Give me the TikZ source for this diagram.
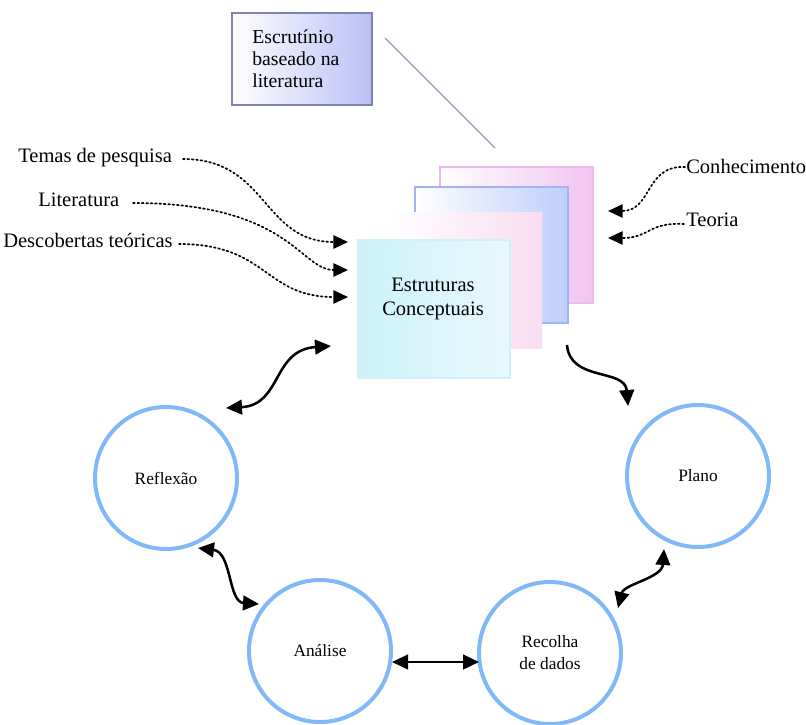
\documentclass[tikz,border=0pt]{standalone}
\usepackage{fontspec}
\setmainfont{Liberation Serif}
\usetikzlibrary{arrows.meta}
\definecolor{circblue}{RGB}{128,184,248}
\definecolor{escborder}{RGB}{128,130,180}
\definecolor{escfill}{RGB}{186,192,244}
\definecolor{pinkedge}{RGB}{236,186,236}
\definecolor{pinkfill}{RGB}{240,196,242}
\definecolor{blueedge}{RGB}{160,180,244}
\definecolor{bluefill}{RGB}{190,206,250}
\definecolor{palepink}{RGB}{250,220,242}
\definecolor{cyanA}{RGB}{204,242,250}
\definecolor{cyanB}{RGB}{232,249,253}
\definecolor{cyanedge}{RGB}{210,240,250}
\definecolor{linegray}{RGB}{150,150,190}
\begin{document}
\begin{tikzpicture}[x=0.75pt,y=-0.75pt,
  lab/.style={font=\fontsize{15.4}{18}\selectfont, inner sep=0pt},
  esclab/.style={font=\fontsize{14.8}{16.5}\selectfont, inner sep=0pt, align=left},
  circ/.style={circle, draw=circblue, line width=3pt, minimum size=106.5pt, inner sep=0pt,
               font=\fontsize{13}{16.5}\selectfont, align=center},
  dotarr/.style={dotted, line width=1.3pt, line cap=round, -{Triangle[length=11pt,width=10pt]}},
  wavy/.style={line width=1.9pt, -{Triangle[length=12pt,width=11pt]}},
  wavyboth/.style={line width=1.9pt, {Triangle[length=12pt,width=11pt]}-{Triangle[length=12pt,width=11pt]}}
]
\useasboundingbox (0,0) rectangle (806,724);

% --- box top
\shadedraw[draw=escborder, line width=0.8pt, left color=white, right color=escfill]
  (232,13) rectangle (372,105);
\node[esclab, anchor=north west] (esc) at (252,30) {Escrut\'inio\\baseado na\\literatura};
\coordinate (l1) at (385,38);
\coordinate (l2) at (495,148);
\draw[linegray, line width=1pt] (l1) -- (l2);

% --- stacked frames
\shadedraw[draw=pinkedge, line width=1pt, left color=white, right color=pinkfill]
  (440,167) rectangle (593,303);
\shadedraw[draw=blueedge, line width=1pt, left color=white, right color=bluefill]
  (415,187) rectangle (568,323);
\shade[left color=white, right color=palepink] (388,212) rectangle (542,348);
\node[draw=cyanedge, line width=0.8pt, left color=cyanA, right color=cyanB,
      minimum width=114pt, minimum height=103.5pt, inner sep=0pt] (front) at (434,309) {};
\node[lab, align=center, font=\fontsize{15.4}{17.5}\selectfont] (fronttxt) at (433,299) {Estruturas\\Conceptuais};

% --- left labels
\node[lab, anchor=west] (temas) at (18,158) {Temas de pesquisa};
\node[lab, anchor=west] (lit) at (38,200) {Literatura};
\node[lab, anchor=west] (desc) at (3,240) {Descobertas te\'oricas};
\coordinate (ts) at (183,159);
\coordinate (ls) at (133,203);
\coordinate (ds) at (179,244);
\coordinate (te) at (348,242);
\coordinate (le) at (348,270);
\coordinate (de) at (348,297);
\draw[dotarr] (ts) .. controls (268,159) and (262,242) .. (te);
\draw[dotarr] (ls) .. controls (290,203) and (300,270) .. (le);
\draw[dotarr] (ds) .. controls (268,244) and (264,297) .. (de);

% --- right labels
\node[lab, anchor=west] (con) at (686,166) {Conhecimento};
\node[lab, anchor=west] (teo) at (686,220) {Teoria};
\coordinate (cs) at (685,167);
\coordinate (os) at (684,224);
\coordinate (ce) at (608,211);
\coordinate (oe) at (608,238);
\draw[dotarr] (cs) .. controls (645,165) and (652,211) .. (ce);
\draw[dotarr] (os) .. controls (648,222) and (650,238) .. (oe);

% --- circles
\node[circ] (refl) at (166,478) {Reflex\~ao};
\node[circ] (plano) at (698,476) {Plano};
\node[circ] (anal) at (320,651) {An\'alise};
\node[circ] (rec) at (550,653) {Recolha\\de dados};

% --- solid arrows
\coordinate (a1) at (226,408);
\coordinate (a2) at (331,346);
\draw[wavyboth] (a1) .. controls (282,405) and (272,350) .. (a2);
\coordinate (b1) at (567,345);
\coordinate (b2) at (628,406);
\draw[wavy] (b1) .. controls (570,382) and (625,368) .. (b2);
\coordinate (c1) at (198,548);
\coordinate (c2) at (259,604);
\draw[wavyboth] (c1) .. controls (232,552) and (228,602) .. (c2);
\coordinate (d1) at (392,662);
\coordinate (d2) at (479,662);
\draw[wavyboth] (d1) -- (d2);
\coordinate (e1) at (618,608);
\coordinate (e2) at (664,549);
\draw[wavyboth] (e1) .. controls (624,584) and (662,578) .. (e2);
\end{tikzpicture}
\end{document}
